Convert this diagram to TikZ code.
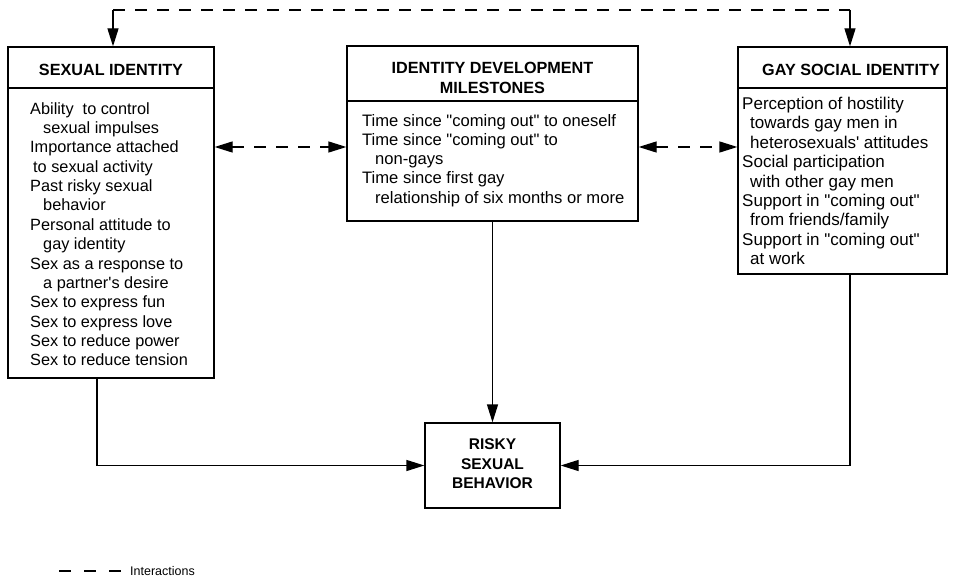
\documentclass[tikz,border=0pt]{standalone}
\usepackage{fontspec}
\setmainfont{Liberation Sans}[Ligatures=TeXOff]
\usetikzlibrary{arrows.meta}
\begin{document}
\begin{tikzpicture}[x=1pt,y=-1pt,
  >={Triangle[length=18pt,width=11pt]},
  box/.style={draw, line width=1.3pt, inner sep=0pt},
  hdr/.style={font=\fontsize{16.2}{19.5}\selectfont\bfseries, align=center, inner sep=0pt},
  bodytxt/.style={align=left, inner sep=0pt, anchor=north west},
  link/.style={line width=1.3pt},
  arr/.style={->},
  darr/.style={<->},
  dsh/.style={dash pattern=on 12pt off 10pt}
]
\useasboundingbox (0,0) rectangle (953,580);

% boxes
\node[box, minimum width=206pt, minimum height=331pt] (si) at (111,212.5) {};
\node[box, minimum width=291pt, minimum height=175pt] (im) at (492.5,133.5) {};
\node[box, minimum width=209pt, minimum height=227pt] (gs) at (842.5,160.5) {};
\node[box, minimum width=135pt, minimum height=85pt] (rb) at (492.5,465.5) {};

% dividers
\draw[link] (si.west |- 0,88) -- (si.east |- 0,88);
\draw[link] (im.west |- 0,101) -- (im.east |- 0,101);
\draw[link] (gs.west |- 0,88) -- (gs.east |- 0,88);

% headers
\node[hdr] (sih) at (111,70) {SEXUAL IDENTITY};
\node[hdr] (imh) at (492.5,78) {IDENTITY DEVELOPMENT\\MILESTONES};
\node[hdr] (gsh) at (851,70) {GAY SOCIAL IDENTITY};
\node[hdr, font=\fontsize{15.5}{19.5}\selectfont\bfseries] (rbt) at (492.5,464) {RISKY\\SEXUAL\\BEHAVIOR};

% body texts
\node[bodytxt, font=\fontsize{16.3}{19.38}\selectfont] (sit) at (30,102) {Ability\ \ to control\\
\hspace*{13pt}sexual impulses\\
Importance attached\\
\hspace*{3pt}to sexual activity\\
Past risky sexual\\
\hspace*{13pt}behavior\\
Personal attitude to\\
\hspace*{13pt}gay identity\\
Sex as a response to\\
\hspace*{13pt}a partner's desire\\
Sex to express fun\\
Sex to express love\\
Sex to reduce power\\
Sex to reduce tension};

\node[bodytxt, font=\fontsize{16.6}{19.25}\selectfont] (imt) at (362,114) {Time since "coming out" to oneself\\
Time since "coming out" to\\
\hspace*{13pt}non-gays\\
Time since first gay\\
\hspace*{13pt}relationship of six months or more};

\node[bodytxt, font=\fontsize{17}{19.4}\selectfont] (gst) at (742,97) {Perception of hostility\\
\hspace*{8pt}towards gay men in\\
\hspace*{8pt}heterosexuals' attitudes\\
Social participation\\
\hspace*{8pt}with other gay men\\
Support in "coming out"\\
\hspace*{8pt}from friends/family\\
Support in "coming out"\\
\hspace*{8pt}at work};

% top interaction loop
\coordinate (tl) at (113,10);
\coordinate (tr) at (850,10);
\draw[link,arr] (tl) -- (tl |- si.north);
\draw[link,dsh] (tl) -- (tr);
\draw[link,arr] (tr) -- (tr |- gs.north);

% side interactions
\coordinate (ly) at (0,147);
\draw[link,dsh,darr] (si.east |- ly) -- (im.west |- ly);
\draw[link,dsh,darr] (im.east |- ly) -- (gs.west |- ly);

% effects on risky behaviour
\coordinate (lx) at (97,0);
\draw[link,arr] (si.south -| lx) |- (rb.west);
\draw[link,arr] (im.south) -- (rb.north);
\draw[link,arr] (gs.south -| tr) |- (rb.east);

% legend
\coordinate (lg1) at (59,571);
\coordinate (lg2) at (122,571);
\draw[line width=1.2pt, dash pattern=on 12pt off 13pt] (lg1) -- (lg2);
\node[anchor=west, inner sep=0pt, font=\fontsize{12.5}{15}\selectfont] (leg) at (130,571) {Interactions};
\end{tikzpicture}
\end{document}
